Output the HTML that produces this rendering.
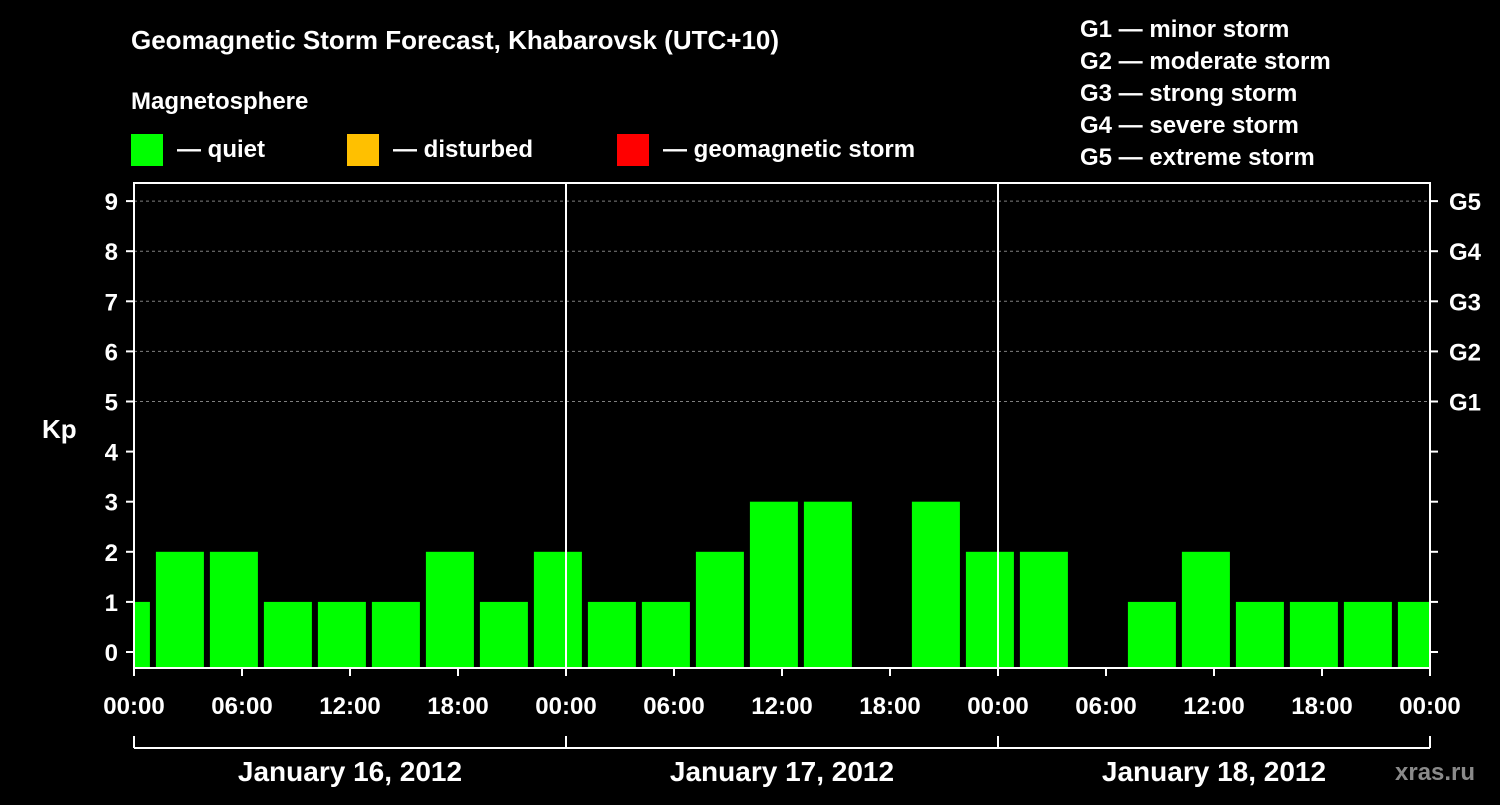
<!DOCTYPE html>
<html><head><meta charset="utf-8"><style>
body{margin:0;background:#000;}
svg text{font-family:"Liberation Sans",sans-serif;font-weight:bold;fill:#fff;}
</style></head><body>
<svg width="1500" height="800" viewBox="0 0 1500 800">
<rect width="1500" height="800" fill="#000"/>
<text x="131" y="49" font-size="26">Geomagnetic Storm Forecast, Khabarovsk (UTC+10)</text>
<text x="131" y="109" font-size="24">Magnetosphere</text>
<rect x="131" y="134" width="32" height="32" fill="#00ff00"/>
<text x="177" y="157" font-size="24">— quiet</text>
<rect x="347" y="134" width="32" height="32" fill="#ffc000"/>
<text x="393" y="157" font-size="24">— disturbed</text>
<rect x="617" y="134" width="32" height="32" fill="#ff0000"/>
<text x="663" y="157" font-size="24">— geomagnetic storm</text>
<g font-size="24">
<text x="1080" y="37">G1 — minor storm</text>
<text x="1080" y="69">G2 — moderate storm</text>
<text x="1080" y="101">G3 — strong storm</text>
<text x="1080" y="133">G4 — severe storm</text>
<text x="1080" y="165">G5 — extreme storm</text>
</g>
<text x="42" y="438" font-size="26">Kp</text>
<text x="1395" y="780" font-size="24" fill="#888" style="fill:#8a8a8a">xras.ru</text>
<defs><clipPath id="pc"><rect x="134" y="183" width="1296" height="485"/></clipPath></defs>
<g id="grid"></g>
<g id="bars" clip-path="url(#pc)"></g>
<g id="axes"></g>
</svg>
<script>
const kpValues=[1,2,2,1,1,1,2,1,2,1,1,2,3,3,0,3,2,2,0,1,2,1,1,1,1];
const yTicks=[0,1,2,3,4,5,6,7,8,9];
const gLabels=["G1","G2","G3","G4","G5"];
const xTickLabels=["00:00","06:00","12:00","18:00","00:00","06:00","12:00","18:00","00:00","06:00","12:00","18:00","00:00"];
const dayLabels=["January 16, 2012","January 17, 2012","January 18, 2012"];
const NS="http://www.w3.org/2000/svg";
const X0=134,X1=1430,YT=183,YB=668;
const y=v=>652-v*50.1;
const xh=h=>X0+h*18; // hours from start
function mk(t,a,p){const e=document.createElementNS(NS,t);for(const k in a)e.setAttribute(k,a[k]);p.appendChild(e);return e;}
const grid=document.getElementById('grid'),bars=document.getElementById('bars'),axes=document.getElementById('axes');
for(let v=5;v<=9;v++){const l=mk('line',{x1:X0,x2:X1,y1:y(v),y2:y(v),stroke:'#808080','stroke-dasharray':'3,3','stroke-width':1},grid);

}
kpValues.forEach((v,i)=>{if(v<=0)return;const cx=xh(i*3-0.45);
const r=mk('rect',{x:cx-24,y:y(v),width:48,height:YB-y(v),fill:'#00ff00'},bars);

});
mk('rect',{x:X0,y:YT,width:X1-X0,height:YB-YT,fill:'none',stroke:'#fff','stroke-width':2},axes);
[1,2].forEach(d=>{const l=mk('line',{x1:xh(d*24),x2:xh(d*24),y1:YT,y2:YB,stroke:'#fff','stroke-width':2},axes);

});
yTicks.forEach(v=>{mk('line',{x1:X0-8,x2:X0,y1:y(v),y2:y(v),stroke:'#fff','stroke-width':2},axes);
mk('line',{x1:X1,x2:X1+8,y1:y(v),y2:y(v),stroke:'#fff','stroke-width':2},axes);
const t=mk('text',{x:X0-16,y:y(v)+9,'text-anchor':'end','font-size':24},axes);t.textContent=v;

});
gLabels.forEach((g,i)=>{const t=mk('text',{x:1449,y:y(5+i)+9,'font-size':24},axes);t.textContent=g;

});
xTickLabels.forEach((s,i)=>{const x=xh(i*6);mk('line',{x1:x,x2:x,y1:YB,y2:YB+8,stroke:'#fff','stroke-width':2},axes);
const t=mk('text',{x:x,y:714,'text-anchor':'middle','font-size':24},axes);t.textContent=s;

});
mk('line',{x1:X0,x2:X1,y1:748,y2:748,stroke:'#fff','stroke-width':2},axes);
for(let d=0;d<=3;d++)mk('line',{x1:xh(d*24),x2:xh(d*24),y1:736,y2:748,stroke:'#fff','stroke-width':2},axes);
dayLabels.forEach((s,i)=>{const t=mk('text',{x:xh(i*24+12),y:781,'text-anchor':'middle','font-size':28},axes);t.textContent=s;

});
</script>
</body></html>
